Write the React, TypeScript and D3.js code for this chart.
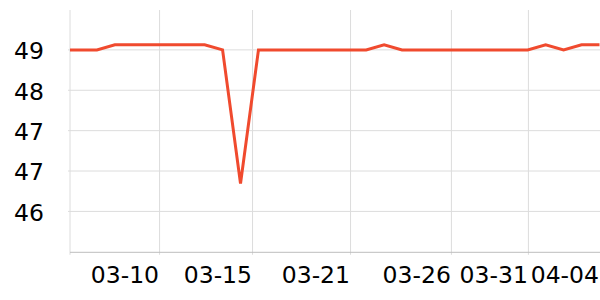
import React from "react";
import * as d3 from "d3";

// x position of each sample, in days from the first sample
const pointDays = [0, 1.5, 2.5, 3.5, 4.5, 5.5, 6.5, 7.5, 8.5, 9.5, 10.5, 11.5, 12.5, 13.5, 14.5, 15.5, 16.5, 17.5, 18.5, 19.5, 20.5, 21.5, 22.5, 23.5, 24.5, 25.5, 26.5, 27.5, 28.5, 29.5];
const values = [49.4, 49.4, 49.5, 49.5, 49.5, 49.5, 49.5, 49.5, 49.4, 46.75, 49.4, 49.4, 49.4, 49.4, 49.4, 49.4, 49.4, 49.5, 49.4, 49.4, 49.4, 49.4, 49.4, 49.4, 49.4, 49.4, 49.5, 49.4, 49.5, 49.5];

const xTickDays = [4.99, 10.17, 15.63, 21.25, 25.54, 29.5];
const xTickLabels = ["03-10", "03-15", "03-21", "03-26", "03-31", "04-04"];
const xGridDays = [0, 4.99, 10.17, 15.63, 21.25, 25.54];

const yTicks = [46.2, 47.0, 47.8, 48.6, 49.4];
const yTickLabels = ["46", "47", "47", "48", "49"];

const W = 600, H = 300;
const left = 70, right = 599.5, top = 10, bottom = 252.3;

export default function App() {
  const x = d3.scaleLinear().domain([0, 29.5]).range([left, right]);
  const y = d3.scaleLinear().domain([45.39, 50.19]).range([bottom, top]);
  const line = d3.line<number>()
    .x((_, i) => x(pointDays[i]))
    .y((d) => y(d));
  const font = "'DejaVu Sans', sans-serif";
  return (
    <svg width={W} height={H} style={{ position: "absolute", left: 0, top: 0, background: "#fff" }}>
      {yTicks.map((t, i) => (
        <g key={"y" + i}>
          <line x1={left - 2} x2={W} y1={y(t)} y2={y(t)} stroke="#dcdcdc" strokeWidth={1} />
          <text x={44} y={y(t) + 9.3} textAnchor="end" fontFamily={font} fontSize={23.5} fill="#000">
            {yTickLabels[i]}
          </text>
        </g>
      ))}
      {xGridDays.map((d, i) => (
        <line key={"xg" + i} x1={x(d)} x2={x(d)} y1={top} y2={bottom + 2.5} stroke="#dcdcdc" strokeWidth={1} />
      ))}
      <line x1={left} x2={W} y1={bottom} y2={bottom} stroke="#bdbdbd" strokeWidth={1} />
      {xTickDays.map((d, i) => (
        <text key={"xl" + i} x={x(d) - 0.5} y={282.5} textAnchor="end" fontFamily={font} fontSize={23.5} fill="#000">
          {xTickLabels[i]}
        </text>
      ))}
      <path d={line(values) || ""} fill="none" stroke="#f04a2e" strokeWidth={3} strokeLinejoin="miter" />
    </svg>
  );
}
